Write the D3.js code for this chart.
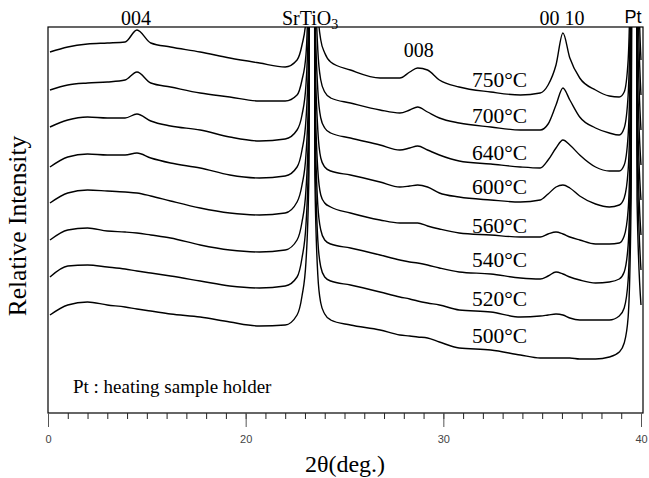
<!DOCTYPE html>
<html>
<head>
<meta charset="utf-8">
<script src="https://cdn.jsdelivr.net/npm/d3@7/dist/d3.min.js"></script>
<style>
  html, body { margin: 0; padding: 0; background: #fff; }
  svg { display: block; }
</style>
</head>
<body>
<svg id="chart" width="649" height="478"></svg>
<script>
// ---------------- data ----------------
const twoTheta = [10.1, 11, 12, 13, 13.9, 14.5, 15.2, 16.2, 17.7, 19.2, 20.7, 22.0, 22.6, 22.85, 23.05, 23.2, 23.35, 23.5, 23.65, 23.8, 24.0, 24.3, 25.3, 26.8, 27.8, 28.3, 28.7, 29.2, 29.8, 30.8, 32.4, 33.9, 34.9, 35.3, 35.7, 36.05, 36.4, 36.9, 37.7, 38.4, 38.9, 39.15, 39.35, 39.5, 39.65, 39.8, 40.0];

const temperatures = ["750°C", "700°C", "640°C", "600°C", "560°C", "540°C", "520°C", "500°C"];

const i750 = [361,366,369,370,371,383,370,366,361,355,350,346,353,368,393,513,2413,513,403,373,360,351,343,335,335,341,345,343,333,326,321,318,320,328,348,380,355,335,323,317,316,321,353,513,2413,513,353];
const i700 = [323,328,330,331,333,341,330,326,320,316,312,312,318,333,358,463,2413,463,363,333,321,315,310,303,300,303,306,301,295,290,286,283,283,289,308,325,313,296,285,280,278,285,318,463,2413,463,318];
const i640 = [286,293,296,295,295,299,292,287,283,276,272,274,283,298,328,413,2413,413,323,295,285,280,275,268,263,265,267,263,258,252,249,246,245,253,265,273,268,258,246,242,242,248,278,413,2413,413,283];
const i600 = [246,256,259,258,258,260,255,250,245,238,235,237,246,263,293,373,2413,373,283,255,246,242,238,231,226,227,228,226,220,216,213,211,213,219,226,228,225,217,209,206,208,215,243,363,2413,363,248];
const i560 = [210,220,223,222,221,220,217,212,205,200,198,200,211,228,258,333,2413,333,243,218,210,206,200,193,190,190,190,187,184,180,178,176,176,179,181,179,176,173,169,169,170,177,203,323,2413,323,213];
const i540 = [173,183,185,182,181,180,178,175,168,163,161,163,173,191,223,303,2413,303,208,183,173,169,165,158,153,151,150,148,145,141,139,135,134,137,141,139,136,133,130,131,134,141,168,293,2413,293,178];
const i520 = [136,147,148,146,144,142,140,137,132,127,125,127,136,155,188,273,2413,273,173,146,136,132,128,121,116,114,112,110,108,103,101,96,97,98,99,98,95,93,93,93,97,105,133,263,2413,263,143];
const i500 = [98,108,111,108,106,104,102,99,96,91,87,88,98,117,151,238,2413,238,138,110,99,93,88,83,78,77,76,75,71,65,63,58,55,55,55,55,55,54,54,56,61,70,96,213,2413,213,108];

const seriesValues = [i750, i700, i640, i600, i560, i540, i520, i500];

const majorTicks = [10, 20, 30, 40];
const majorTickLabels = ["0", "20", "30", "40"];
const minorTicks = d3.range(10, 41, 1);

const peakLabels = ["004", "SrTiO", "008", "00 10", "Pt"];
const peakPositions = [14.45, 22.6, 28.75, 36.0, 39.6];
const peakLabelLevels = [388, 388, 356, 388, 390];

const labelLevels = [326, 290, 253, 219, 180, 146, 107, 70];
const labelPosition = 31.45;

const xTitle = "2θ(deg.)";
const yTitle = "Relative Intensity";
const note = "Pt : heating sample holder";

// ---------------- drawing ----------------
const svg = d3.select("#chart");
const plot = { left: 48, right: 643, top: 27, bottom: 413 };

const x = d3.scaleLinear().domain([10, 40]).range([plot.left, 641]);
const y = d3.scaleLinear().domain([0, 386]).range([plot.bottom, plot.top]);

const serif = "'Liberation Serif', 'Times New Roman', Times, serif";
const sans = "'Liberation Sans', Arial, Helvetica, sans-serif";

svg.append("defs").append("clipPath").attr("id", "clip")
  .append("rect")
  .attr("x", plot.left).attr("y", plot.top)
  .attr("width", plot.right - plot.left).attr("height", plot.bottom - plot.top);

// curves
const line = d3.line()
  .x((d, i) => x(twoTheta[i]))
  .y(d => y(d))
  .curve(d3.curveMonotoneX);

svg.append("g").attr("clip-path", "url(#clip)")
  .selectAll("path")
  .data(seriesValues)
  .join("path")
  .attr("d", d => line(d))
  .attr("fill", "none")
  .attr("stroke", "#000")
  .attr("stroke-width", 1.4)
  .attr("stroke-linejoin", "round");

// frame
svg.append("rect")
  .attr("x", plot.left).attr("y", plot.top)
  .attr("width", plot.right - plot.left).attr("height", plot.bottom - plot.top)
  .attr("fill", "none").attr("stroke", "#000").attr("stroke-width", 1.2);

// minor ticks
const minorAxis = d3.axisBottom(x).tickValues(minorTicks).tickSize(6).tickFormat("");
const gMinor = svg.append("g").attr("transform", `translate(0,${plot.bottom})`).call(minorAxis);
gMinor.select(".domain").remove();
gMinor.selectAll("line").attr("stroke", "#222");

// major ticks with labels
const majorAxis = d3.axisBottom(x).tickValues(majorTicks).tickSize(14).tickPadding(8)
  .tickFormat((d, i) => majorTickLabels[i]);
const gMajor = svg.append("g").attr("transform", `translate(0,${plot.bottom})`).call(majorAxis);
gMajor.select(".domain").remove();
gMajor.selectAll("line").attr("stroke", "#555");
gMajor.selectAll("text").attr("font-family", sans).attr("font-size", 11).attr("fill", "#444");

// peak labels
peakLabels.forEach((t, i) => {
  const txt = svg.append("text")
    .attr("x", x(peakPositions[i]))
    .attr("y", y(peakLabelLevels[i]))
    .attr("font-family", t === "Pt" ? sans : serif)
    .attr("font-size", t === "Pt" ? 18 : 20)
    .attr("text-anchor", t === "SrTiO" ? "start" : "middle")
    .attr("fill", "#000");
  if (t === "SrTiO") {
    txt.attr("x", 282).text(t);
    txt.append("tspan").attr("dy", 4).attr("font-size", 14).text("3");
  } else {
    txt.text(t);
  }
});

// temperature labels
svg.append("g").selectAll("text")
  .data(temperatures)
  .join("text")
  .attr("x", x(labelPosition))
  .attr("y", (d, i) => y(labelLevels[i]))
  .attr("font-family", serif)
  .attr("font-size", 21.5)
  .attr("fill", "#000")
  .text(d => d);

// note
svg.append("text")
  .attr("x", 73).attr("y", 393)
  .attr("font-family", serif).attr("font-size", 19)
  .attr("fill", "#000")
  .text(note);

// axis titles
svg.append("text")
  .attr("x", 345).attr("y", 472)
  .attr("text-anchor", "middle")
  .attr("font-family", serif).attr("font-size", 24)
  .attr("fill", "#000")
  .text(xTitle);

svg.append("text")
  .attr("transform", "translate(26,226) rotate(-90)")
  .attr("text-anchor", "middle")
  .attr("font-family", serif).attr("font-size", 25.5)
  .attr("fill", "#000")
  .text(yTitle);
</script>
</body>
</html>
